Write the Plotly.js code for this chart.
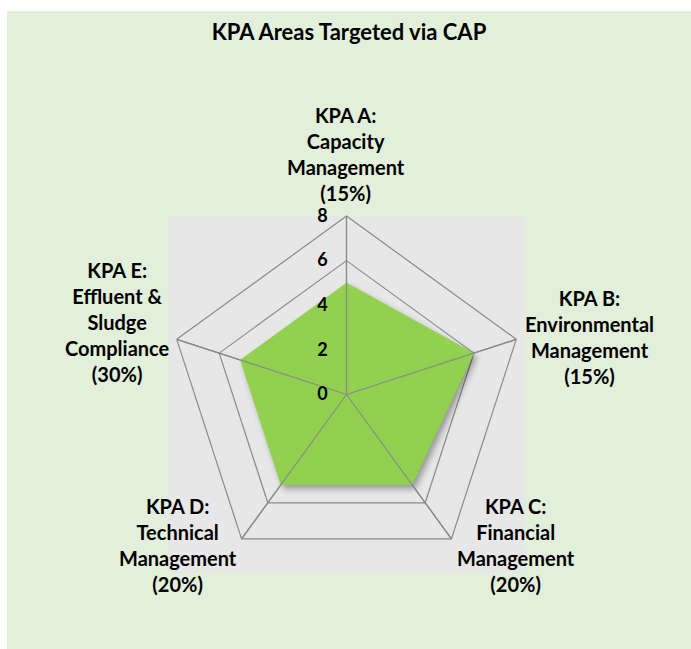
<!DOCTYPE html>
<html>
<head>
<meta charset="utf-8">
<script src="https://cdn.plot.ly/plotly-3.0.1.min.js"></script>
<style>html,body{margin:0;padding:0;background:#fff;}</style>
</head>
<body>
<div id="chart" style="width:691px;height:649px;"></div>
<script>
const chartTitle = "KPA Areas Targeted via CAP";
const categories = ["KPA A", "KPA B", "KPA C", "KPA D", "KPA E"];
const categoryLabels = [
  "KPA A:<br>Capacity<br>Management<br>(15%)",
  "KPA B:<br>Environmental<br>Management<br>(15%)",
  "KPA C:<br>Financial<br>Management<br>(20%)",
  "KPA D:<br>Technical<br>Management<br>(20%)",
  "KPA E:<br>Effluent &amp;<br>Sludge<br>Compliance<br>(30%)"
];
const values = [5, 6, 5, 5, 5];
const radialTicks = [0, 2, 4, 6, 8];

const W = 691, H = 649;
const px = (x) => x / W;
const py = (y) => 1 - y / H;
const rMax = radialTicks[radialTicks.length - 1];

// label centre positions (pixels)
const labelPos = [[346, 154], [589, 337], [516, 545], [178, 545], [118, 322]];

const font = "Lato, 'Open Sans', sans-serif";

const dataTrace = {
  type: "scatterpolar",
  r: values.concat([values[0]]),
  theta: categories.concat([categories[0]]),
  fill: "toself",
  fillcolor: "#92D050",
  mode: "lines",
  line: {color: "#92D050", width: 0.5},
  hoverinfo: "skip",
  showlegend: false
};

const spokeR = [], spokeT = [];
categories.forEach(c => { spokeR.push(0, rMax, null); spokeT.push(c, c, null); });
const spokes = {
  type: "scatterpolar",
  r: spokeR, theta: spokeT,
  mode: "lines",
  line: {color: "#8a8a8a", width: 1.2},
  hoverinfo: "skip",
  showlegend: false,
  connectgaps: false
};

const layout = {
  width: W, height: H,
  margin: {l: 0, r: 0, t: 0, b: 0},
  paper_bgcolor: "#ffffff",
  showlegend: false,
  title: {
    text: "<b>" + chartTitle + "</b>",
    font: {family: font, size: 22, color: "#000"},
    x: 349 / W, xanchor: "center",
    y: py(32), yanchor: "middle"
  },
  shapes: [
    {type: "rect", xref: "paper", yref: "paper", x0: px(7), x1: 1, y0: 0, y1: py(11),
     fillcolor: "#E2EFDA", line: {width: 0}, layer: "below"},
    {type: "rect", xref: "paper", yref: "paper", x0: px(168), x1: px(525), y0: py(573), y1: py(216),
     fillcolor: "#E7E7E7", line: {width: 0}, layer: "below"}
  ],
  polar: {
    domain: {x: [px(168), px(525)], y: [py(573), py(216)]},
    bgcolor: "rgba(0,0,0,0)",
    gridshape: "linear",
    angularaxis: {
      direction: "clockwise",
      rotation: 90,
      showticklabels: false,
      ticks: "",
      showline: true,
      linecolor: "#8a8a8a",
      linewidth: 1.2,
      gridcolor: "#8a8a8a",
      gridwidth: 1.2
    },
    radialaxis: {
      range: [0, rMax],
      tickvals: radialTicks,
      ticktext: radialTicks.map(v => "<b>" + v + "</b>"),
      angle: 90,
      side: "counterclockwise",
      tickangle: 90,
      showline: false,
      ticks: "outside",
      ticklen: 12,
      tickcolor: "rgba(0,0,0,0)",
      tickfont: {family: font, size: 18, color: "#000"},
      gridcolor: "#8a8a8a",
      gridwidth: 1.2
    }
  },
  annotations: categoryLabels.map((t, i) => ({
    text: "<b>" + t + "</b>",
    xref: "paper", yref: "paper",
    x: px(labelPos[i][0]), y: py(labelPos[i][1]),
    xanchor: "center", yanchor: "middle",
    showarrow: false, align: "center",
    font: {family: font, size: 20, color: "#000"}
  }))
};

Plotly.newPlot("chart", [dataTrace, spokes], layout, {displayModeBar: false, staticPlot: true}).then(() => {
  const fillPath = document.querySelector(".polarlayer .trace path.js-fill");
  if (fillPath) fillPath.style.filter = "drop-shadow(3px 4px 3px rgba(0,0,0,0.35))";
});
</script>
</body>
</html>
